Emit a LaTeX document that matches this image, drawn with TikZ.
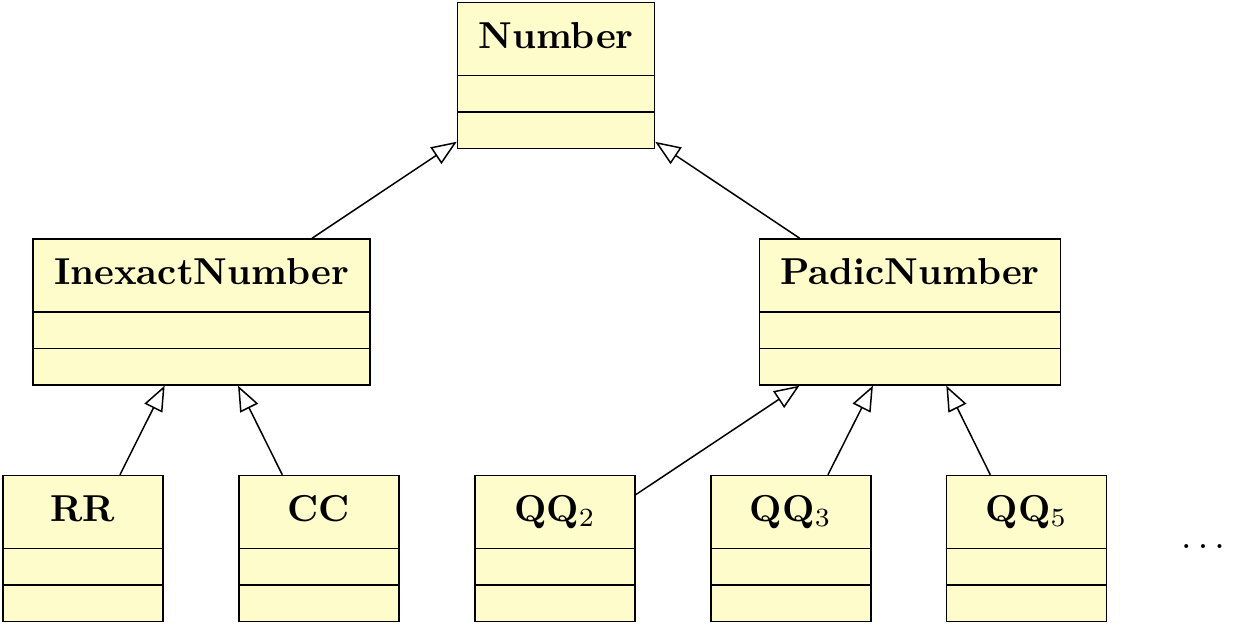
\documentclass[tikz,border=0pt]{standalone}
\usepackage{tikz}
\usetikzlibrary{positioning, arrows.meta, shapes.multipart}

\begin{document}
\begin{tikzpicture}[node distance=19.85pt, >=Stealth,
    umlclass/.style={draw, fill=yellow!20, rectangle split, rectangle split parts=3,
      minimum width=1.5cm, inner xsep=5.6pt, inner ysep=2pt,
      rectangle split empty part height=5.35pt, rectangle split empty part depth=0pt,
      font=\bfseries},
    gen/.style={-{Triangle[open, length=6.7pt, width=5.3pt]}}]

    \useasboundingbox (0,0) rectangle (11.681,-5.859);

    % Draw classes
    \node (number) [umlclass] at (5.2125,-0.708) {\rule[-5pt]{0pt}{15pt}Number};
    \node (inexact) [umlclass] at (1.889,-2.925) {\rule[-5pt]{0pt}{15pt}InexactNumber};
    \node (padic) [umlclass] at (8.531,-2.925) {\rule[-5pt]{0pt}{15pt}PadicNumber};
    \node (rr) [umlclass] at (0.778,-5.142) {\rule[-5pt]{0pt}{15pt}RR};
    \node (cc) [umlclass, right=of rr] {\rule[-5pt]{0pt}{15pt}CC};
    \node (qq2) [umlclass, right=of cc] {\rule[-5pt]{0pt}{15pt}QQ$_2$};
    \node (qq3) [umlclass, right=of qq2] {\rule[-5pt]{0pt}{15pt}QQ$_3$};
    \node (qq5) [umlclass, right=of qq3] {\rule[-5pt]{0pt}{15pt}QQ$_5$};
    \node (dots) at (11.278,-5.128) {$\ldots$};

    % Draw arrows
    \draw[gen] (inexact) -- (number);
    \draw[gen] (padic) -- (number);
    \draw[gen] (rr) -- (inexact);
    \draw[gen] (cc) -- (inexact);
    \draw[gen] (qq2) -- (padic);
    \draw[gen] (qq3) -- (padic);
    \draw[gen] (qq5) -- (padic);

\end{tikzpicture}
\end{document}
